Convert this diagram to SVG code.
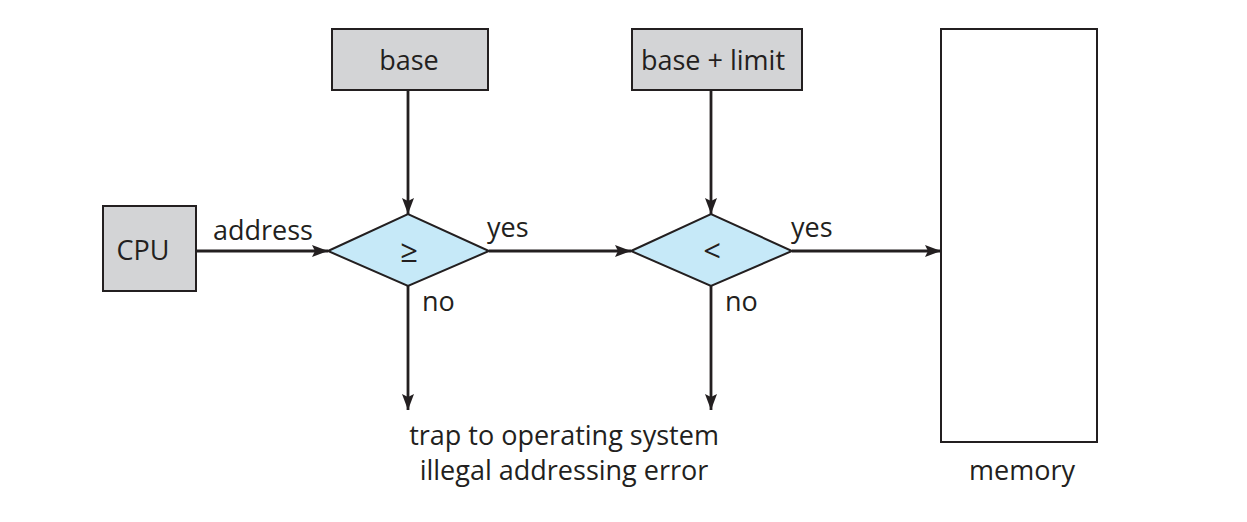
<svg xmlns="http://www.w3.org/2000/svg" width="1247" height="522" viewBox="0 0 1247 522">
<defs>
<marker id="ah" markerWidth="16" markerHeight="12" refX="16" refY="6" orient="auto" markerUnits="userSpaceOnUse"><path d="M0,0 L16,6 L0,12 L3,6 Z" fill="#231f20"/></marker>
<style>
.box{fill:#d3d4d6;stroke:#231f20;stroke-width:2}
.dia{fill:#c6e9f8;stroke:#231f20;stroke-width:2}
.mem{fill:#fff;stroke:#231f20;stroke-width:2}
.ln{stroke:#231f20;stroke-width:2.8;fill:none;marker-end:url(#ah)}
text{font-family:"Open Sans","Liberation Sans",sans-serif;font-size:27px;fill:#231f20}
.c{text-anchor:middle}
.sym{font-size:31px}
</style>
</defs>
<rect width="1247" height="522" fill="#fff"/>
<g id="connectors">
<line class="ln" x1="197" y1="251" x2="328" y2="251"/>
<line class="ln" x1="408" y1="91" x2="408" y2="214"/>
<line class="ln" x1="489" y1="251" x2="631" y2="251"/>
<line class="ln" x1="711" y1="91" x2="711" y2="214"/>
<line class="ln" x1="792" y1="251" x2="941" y2="251"/>
<line class="ln" x1="408" y1="286" x2="408" y2="410"/>
<line class="ln" x1="711" y1="286" x2="711" y2="410"/>
<text x="213" y="240">address</text>
<text x="487" y="237">yes</text>
<text x="791" y="237">yes</text>
<text x="422" y="311">no</text>
<text x="725" y="311">no</text>
</g>
<g id="cpu"><rect class="box" x="103" y="206" width="93" height="85"/><text class="c" x="143" y="260">CPU</text></g>
<g id="base"><rect class="box" x="332" y="29" width="156" height="61"/><text class="c" x="409" y="70">base</text></g>
<g id="baselimit"><rect class="box" x="632" y="29" width="170" height="61"/><text class="c" x="713" y="70">base + limit</text></g>
<g id="cmp1"><polygon class="dia" points="328,251 408,214 489,251 408,286"/><text class="c sym" x="409" y="262">≥</text></g>
<g id="cmp2"><polygon class="dia" points="631,251 711,214 792,251 711,286"/><text class="c sym" x="712" y="262">&lt;</text></g>
<g id="memory"><rect class="mem" x="941" y="29" width="156" height="413"/><text class="c" x="1022" y="480">memory</text></g>
<g id="trap"><text class="c" x="564" y="445">trap to operating system</text><text class="c" x="564" y="480">illegal addressing error</text></g>
</svg>
